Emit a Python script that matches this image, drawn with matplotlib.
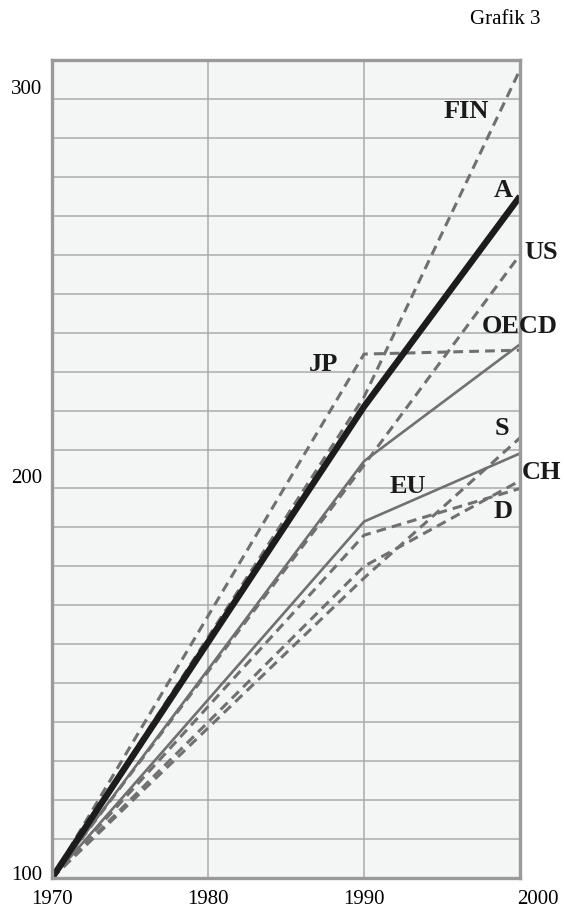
import matplotlib
matplotlib.use("Agg")
import matplotlib.pyplot as plt
import matplotlib.transforms as mtransforms

# index values, 1970 = 100
years = [1970, 1990, 2000]
fin = [100, 223.5, 307.5]
austria = [100, 221, 275]
us = [100, 206, 260]
jp = [100, 234.5, 235.5]
oecd = [100, 207, 237]
sweden = [100, 177, 213]
ch = [100, 180, 202]
germany = [100, 188, 200]
eu = [100, 191.5, 209]

x_ticks = [1970, 1980, 1990, 2000]
y_ticks = [100, 200, 300]

plt.rcParams["font.family"] = ["Liberation Serif", "DejaVu Serif"]

GRAY = "#707070"
DASH = (0, (3.2, 2.0))

fig = plt.figure(figsize=(5.64, 9.14), dpi=100)
ax = fig.add_axes([52 / 564, 36 / 914, 468 / 564, 818 / 914])
ax.set_facecolor("#f4f6f5")

# dashed country series
for vals in (fin, us, jp, sweden, ch, germany):
    ax.plot(years, vals, color=GRAY, lw=2.2, linestyle=DASH, zorder=3)
# solid aggregates
for vals in (oecd, eu):
    ax.plot(years, vals, color=GRAY, lw=1.9, solid_capstyle="butt", zorder=3)
# Austria
ax.plot(years, austria, color="#1c1c1c", lw=4.6, solid_capstyle="butt", zorder=4)

ax.set_xlim(1970, 2000)
ax.set_ylim(100, 310)
ax.set_xticks(x_ticks)
ax.set_yticks(y_ticks)
ax.set_yticks(range(100, 311, 10), minor=True)
ax.grid(which="both", color="#ababab", lw=1.1, zorder=1)
ax.set_axisbelow(True)
ax.tick_params(which="both", length=0)
ax.tick_params(axis="x", pad=9, labelsize=15)
ax.tick_params(axis="y", pad=7, labelsize=15)

# nudge tick labels like the original
for lab, dy in zip(ax.get_yticklabels(), [5, 12, 12]):
    lab.set_transform(lab.get_transform() + mtransforms.ScaledTranslation(0, dy / 100, fig.dpi_scale_trans))
xl = ax.get_xticklabels()
xl[-1].set_transform(xl[-1].get_transform() + mtransforms.ScaledTranslation(18 / 100, 0, fig.dpi_scale_trans))

for sp in ax.spines.values():
    sp.set_color("#9a9a9a")
    sp.set_linewidth(2.4)
    sp.set_zorder(5)

labels = [
    ("FIN", 1996.55, 296.7),
    ("A", 1998.9, 276.6),
    ("US", 2001.35, 260.5),
    ("OECD", 2000.0, 241.5),
    ("JP", 1987.4, 231.7),
    ("S", 1998.85, 215.3),
    ("CH", 2001.4, 204.0),
    ("EU", 1992.8, 200.6),
    ("D", 1998.9, 194.0),
]
for txt, lx, ly in labels:
    ax.text(lx, ly, txt, fontsize=19, fontweight="bold", color="#1a1a1a",
            ha="center", va="center", zorder=6, clip_on=False)

fig.text(540 / 564, 1 - 19 / 914, "Grafik 3", fontsize=15, ha="right", va="center")

fig.savefig("out.png", dpi=100)
